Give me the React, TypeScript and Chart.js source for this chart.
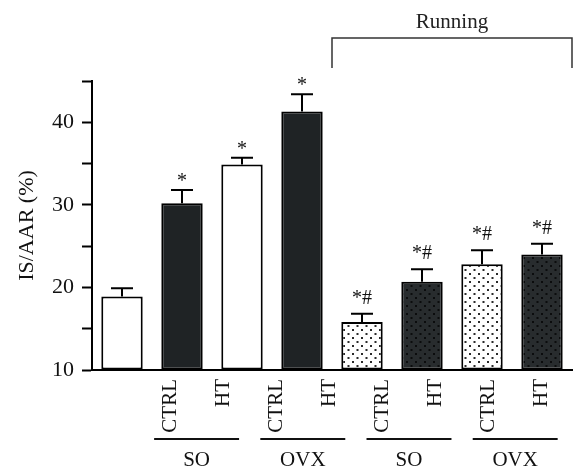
import React, { useEffect, useRef } from "react";
import { Chart, registerables } from "chart.js";

Chart.register(...registerables);

const categories = ["Control", "SO CTRL", "SO HT", "OVX CTRL", "Run SO CTRL", "Run SO HT", "Run OVX CTRL", "Run OVX HT"];
const values = [18.9, 30.2, 34.9, 41.3, 15.8, 20.7, 22.8, 24.0];
const errors = [1.0, 1.6, 0.8, 2.1, 1.0, 1.5, 1.7, 1.3];
const marks = ["", "*", "*", "*", "*#", "*#", "*#", "*#"];
const fills = ["white", "dark", "white", "dark", "dotWhite", "dotDark", "dotWhite", "dotDark"];
const tickLabels = ["CTRL", "HT", "CTRL", "HT", "CTRL", "HT", "CTRL", "HT"];
const groupLabels = ["SO", "OVX", "SO", "OVX"];
const bracketLabel = "Running";
const yTicksLabelled = [10, 20, 30, 40];

const SERIF = '"Liberation Serif", "Times New Roman", serif';
const DARK = "#1f2325";

function makePattern(bg: string, dot: string): CanvasPattern | string {
  const c = document.createElement("canvas");
  c.width = 9;
  c.height = 8;
  const g = c.getContext("2d");
  if (!g) return bg;
  g.fillStyle = bg;
  g.fillRect(0, 0, 9, 8);
  g.fillStyle = dot;
  g.fillRect(1, 1, 2, 2);
  g.fillRect(5.5, 5, 2, 2);
  const p = g.createPattern(c, "repeat");
  return p || bg;
}

const errorBarPlugin = {
  id: "errorBars",
  afterDatasetsDraw(chart: any) {
    const { ctx } = chart;
    const y = chart.scales.y;
    const meta = chart.getDatasetMeta(0);
    ctx.save();
    meta.data.forEach((bar: any, i: number) => {
      const x = bar.x;
      const top = bar.y;
      const et = y.getPixelForValue(values[i] + errors[i]);
      ctx.strokeStyle = "#000";
      ctx.lineWidth = 2;
      ctx.beginPath();
      ctx.moveTo(x, top);
      ctx.lineTo(x, et);
      ctx.moveTo(x - 11, et);
      ctx.lineTo(x + 11, et);
      ctx.stroke();
      if (marks[i]) {
        ctx.fillStyle = "#111";
        ctx.font = `20px ${SERIF}`;
        ctx.textAlign = "center";
        ctx.textBaseline = "alphabetic";
        ctx.fillText(marks[i], x, et - (marks[i].includes("#") ? 10 : 3));
      }
    });
    ctx.restore();
  },
};

const annotationPlugin = {
  id: "groupAnnotations",
  afterDraw(chart: any) {
    const { ctx, chartArea } = chart;
    const x = chart.scales.x;
    const x2 = chart.scales.x2;
    ctx.save();
    // Running bracket
    const bx1 = x.getPixelForValue(3.5);
    const bx2 = x.getPixelForValue(7.5);
    const by = chartArea.top - 43;
    ctx.strokeStyle = "#333";
    ctx.lineWidth = 1.5;
    ctx.beginPath();
    ctx.moveTo(bx1, by + 30);
    ctx.lineTo(bx1, by);
    ctx.lineTo(bx2, by);
    ctx.lineTo(bx2, by + 30);
    ctx.stroke();
    ctx.fillStyle = "#222";
    ctx.font = `21px ${SERIF}`;
    ctx.textAlign = "center";
    ctx.textBaseline = "alphabetic";
    ctx.fillText(bracketLabel, (bx1 + bx2) / 2, by - 10);

    // group lines and labels
    const ly = chartArea.bottom + 69;
    groupLabels.forEach((lab, g) => {
      const k = g * 2;
      const gx1 = x2.getPixelForValue(k - 0.3);
      const gx2 = x2.getPixelForValue(k + 1.3);
      ctx.strokeStyle = "#111";
      ctx.lineWidth = 2;
      ctx.beginPath();
      ctx.moveTo(gx1, ly);
      ctx.lineTo(gx2, ly);
      ctx.stroke();
      ctx.fillStyle = "#111";
      ctx.font = `21px ${SERIF}`;
      ctx.textAlign = "center";
      ctx.fillText(lab, (gx1 + gx2) / 2, ly + 27);
    });
    ctx.restore();
  },
};

export default function App() {
  const ref = useRef<HTMLCanvasElement | null>(null);
  useEffect(() => {
    if (!ref.current) return;
    const pats: Record<string, any> = {
      white: "#ffffff",
      dark: DARK,
      dotWhite: makePattern("#ffffff", "#2a2a2a"),
      dotDark: makePattern("#282c2e", "#0b0c0d"),
    };
    const chart = new Chart(ref.current, {
      type: "bar",
      data: {
        labels: categories,
        datasets: [
          {
            data: values,
            base: 10,
            backgroundColor: fills.map((f) => pats[f]),
            borderColor: "#000",
            borderWidth: 2,
            borderSkipped: false,
            barPercentage: 0.69,
            categoryPercentage: 1,
          } as any,
        ],
      },
      options: {
        animation: false,
        responsive: false,
        layout: { padding: { top: 81, right: 14, left: 0, bottom: 0 } },
        plugins: { legend: { display: false }, tooltip: { enabled: false } },
        scales: {
          x: {
            type: "category",
            position: "bottom",
            grid: { display: false, drawTicks: false },
            ticks: { display: false },
            border: { display: true, color: "#000", width: 2 },
            afterFit: (s: any) => {
              s.height = 0;
            },
          },
          x2: {
            type: "linear",
            position: "bottom",
            bounds: "data",
            offset: false,
            min: -1.47,
            max: 7.57,
            grid: { display: false, drawTicks: false, offset: false },
            border: { display: false },
            afterBuildTicks: (s: any) => {
              s.ticks = tickLabels.map((_, i) => ({ value: i }));
            },
            ticks: {
              autoSkip: false,
              maxRotation: 90,
              minRotation: 90,
              padding: 9,
              color: "#111",
              font: { family: SERIF, size: 21 },
              callback: (v: any) => tickLabels[Math.round(Number(v))] ?? "",
            },
            afterFit: (s: any) => {
              s.height = 106;
            },
          },
          y: {
            type: "linear",
            min: 10,
            max: 45,
            grid: { drawOnChartArea: false, drawTicks: true, tickLength: 10, tickWidth: 2, tickColor: "#000" },
            border: { display: true, color: "#000", width: 2 },
            afterBuildTicks: (s: any) => {
              const t = [];
              for (let v = 10; v <= 45; v += 5) t.push({ value: v });
              s.ticks = t;
            },
            ticks: {
              padding: 8,
              color: "#111",
              font: { family: SERIF, size: 22 },
              callback: (v: any) => (yTicksLabelled.includes(Number(v)) ? String(v) : ""),
            },
            title: {
              display: true,
              text: "IS/AAR (%)",
              color: "#111",
              font: { family: SERIF, size: 22 },
              padding: { top: 14, bottom: 0 },
            },
            afterFit: (s: any) => {
              s.width = 92;
            },
          },
        },
      },
      plugins: [errorBarPlugin, annotationPlugin],
    });
    return () => chart.destroy();
  }, []);
  return (
    <div style={{ position: "absolute", left: 0, top: 0, width: 586, height: 476, background: "#fff" }}>
      <canvas ref={ref} width={586} height={476} />
    </div>
  );
}
